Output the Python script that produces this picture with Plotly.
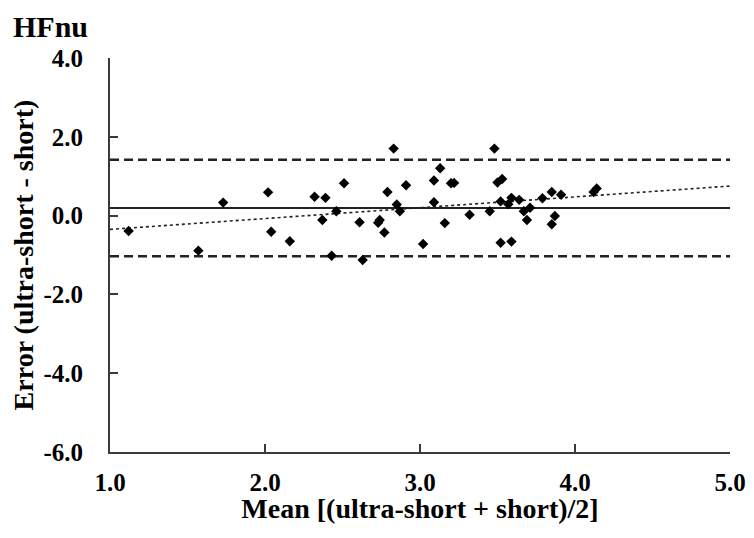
import plotly.graph_objects as go

# Data (Bland-Altman plot, HFnu)
mean_x = [1.12, 1.57, 1.73, 2.02, 2.04, 2.16, 2.32, 2.39, 2.51, 2.46,
          2.37, 2.61, 2.74, 2.73, 2.77, 2.79, 2.85, 2.87, 2.91, 2.43,
          2.63, 3.02, 3.09, 3.13, 3.09, 3.16, 3.20, 3.22, 3.32, 3.45,
          2.83, 3.48, 3.50, 3.53, 3.52, 3.57, 3.59, 3.64, 3.67, 3.69,
          3.71, 3.52, 3.59, 3.79, 3.85, 3.91, 3.87, 3.85, 4.12, 4.14]
error_y = [-0.39, -0.89, 0.33, 0.59, -0.41, -0.65, 0.48, 0.45, 0.82, 0.11,
           -0.11, -0.17, -0.11, -0.18, -0.43, 0.60, 0.28, 0.11, 0.77, -1.02,
           -1.13, -0.72, 0.89, 1.20, 0.34, -0.19, 0.82, 0.83, 0.02, 0.11,
           1.70, 1.70, 0.84, 0.93, 0.36, 0.29, 0.45, 0.40, 0.11, -0.11,
           0.20, -0.69, -0.66, 0.44, 0.60, 0.53, -0.01, -0.22, 0.60, 0.69]

mean_diff = 0.19
upper_loa = 1.42
lower_loa = -1.03
trend_x = [1.0, 5.0]
trend_y = [-0.35, 0.75]

x_range = [1.0, 5.0]
x_ticks = [1.0, 2.0, 3.0, 4.0, 5.0]
x_ticktext = ["1.0", "2.0", "3.0", "4.0", "5.0"]
y_ticks = [4.0, 2.0, 0.0, -2.0, -4.0, -6.0]
y_ticktext = ["4.0", "2.0", "0.0", "-2.0", "-4.0", "-6.0"]

FONT = "Liberation Serif"
AX = "#3a3a3a"

fig = go.Figure()

fig.add_trace(go.Scatter(x=x_range, y=[mean_diff, mean_diff], mode="lines",
                         line=dict(color="#222222", width=2), showlegend=False, hoverinfo="skip"))
for v in (upper_loa, lower_loa):
    fig.add_trace(go.Scatter(x=x_range, y=[v, v], mode="lines",
                             line=dict(color="#222222", width=2.5, dash="9px,5px"),
                             showlegend=False, hoverinfo="skip"))
fig.add_trace(go.Scatter(x=trend_x, y=trend_y, mode="lines",
                         line=dict(color="#222222", width=1.6, dash="dot"),
                         showlegend=False, hoverinfo="skip"))
fig.add_trace(go.Scatter(x=mean_x, y=error_y, mode="markers",
                         marker=dict(symbol="diamond", size=8, color="black"),
                         showlegend=False))

fig.update_layout(
    width=738, height=516,
    margin=dict(l=102, r=16, t=50, b=72),
    paper_bgcolor="white", plot_bgcolor="white",
    font=dict(family=FONT, color="black"),
    annotations=[dict(text="HFnu", xref="paper", yref="paper", x=-0.160, y=1.126,
                      xanchor="left", yanchor="top", showarrow=False,
                      font=dict(family=FONT, size=30, weight="bold", color="black"))],
)
fig.update_xaxes(range=x_range, tickvals=x_ticks, ticktext=x_ticktext, automargin=False,
                 ticks="inside", ticklen=8, tickwidth=1.5, tickcolor=AX,
                 showline=True, linecolor=AX, linewidth=2, showgrid=False, zeroline=False,
                 tickfont=dict(family=FONT, size=25, weight="bold", color="black"),
                 ticklabelstandoff=7, ticklabeloverflow="allow",
                 title=dict(text="Mean [(ultra-short + short)/2]", standoff=12,
                            font=dict(family=FONT, size=28, weight="bold", color="black")))
fig.update_yaxes(range=[-6, 4], tickvals=y_ticks, ticktext=y_ticktext, automargin=False,
                 ticks="inside", ticklen=8, tickwidth=1.5, tickcolor=AX,
                 showline=True, linecolor=AX, linewidth=2, showgrid=False, zeroline=False,
                 tickfont=dict(family=FONT, size=25, weight="bold", color="black"),
                 ticklabelstandoff=20,
                 title=dict(text="Error (ultra-short - short)", standoff=8,
                            font=dict(family=FONT, size=28, weight="bold", color="black")))

fig.write_html("out.html")
